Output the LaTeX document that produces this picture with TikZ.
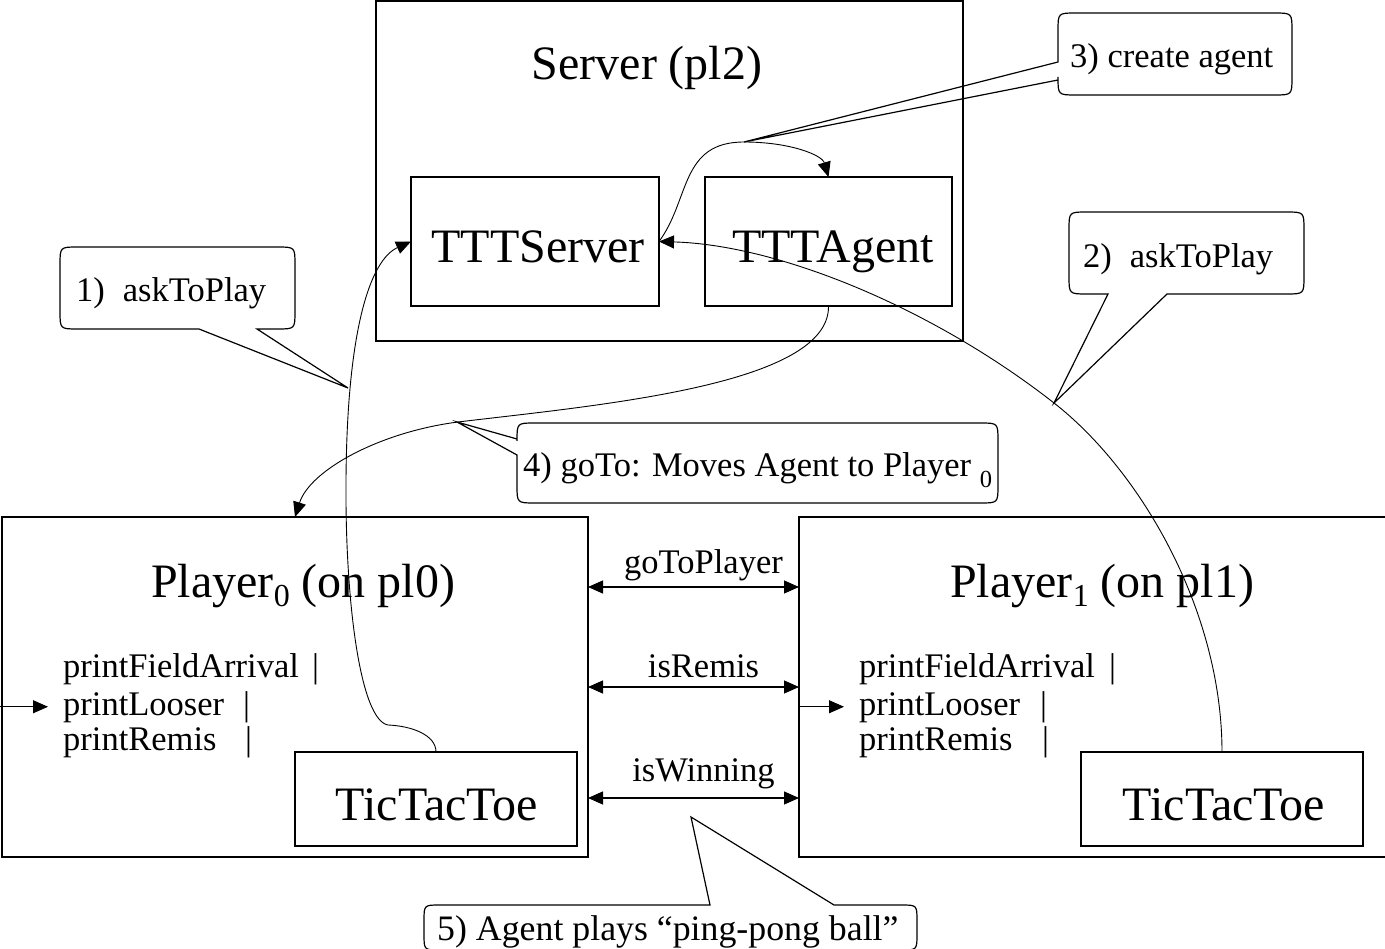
\documentclass[tikz,border=0pt]{standalone}
\usepackage{fontspec}
\setmainfont{Liberation Serif}
\usetikzlibrary{arrows.meta,fit}

% lowered index digit, as in Player_0
\newcommand{\lowidx}[3]{\raisebox{-#2pt}{\fontsize{#1}{#1}\selectfont #3}}

\begin{document}
\begin{tikzpicture}[x=1pt,y=-1pt,
  box/.style={draw, line width=1.2pt, inner sep=0pt, outer sep=0pt},
  big/.style={font=\fontsize{48}{56}\selectfont, inner sep=0pt},
  small/.style={font=\fontsize{34.5}{40}\selectfont, inner sep=0pt},
  callout/.style={draw, line width=1.2pt, line join=miter},
  flow/.style={line width=0.9pt, -{Triangle[length=15pt,width=13pt]}},
  twoway/.style={line width=1.1pt, {Triangle[length=15pt,width=13pt]}-{Triangle[length=15pt,width=13pt]}},
]
\useasboundingbox (0,0) rectangle (1385,949);
\clip (0,0) rectangle (1385,949);

% ---------- containers ----------
\node[box, fit={(376,1) (963,341)}]    (server)    {};
\node[box, fit={(411,177) (659,306)}]  (tttserver) {};
\node[box, fit={(705,177) (952,306)}]  (tttagent)  {};
\node[box, fit={(2,517) (588,857)}]    (player0)   {};
\node[box, fit={(799,517) (1420,857)}] (player1)   {};
\node[box, fit={(295,752) (577,846)}]  (ttt0)      {};
\node[box, fit={(1081,752) (1363,846)}](ttt1)      {};

% ---------- titles ----------
\node[big, anchor=base] (serverlbl)    at (647,80)  {Server (pl2)};
\node[big, anchor=base] (tttserverlbl) at (538,263) {TTTServer};
\node[big, anchor=base] (tttagentlbl)  at (833,263) {TTTAgent};
\node[big, anchor=base west] (p0lbl) at (151,597) {Player\lowidx{32}{9.5}{0} (on pl0)};
\node[big, anchor=base west] (p1lbl) at (950,597) {Player\lowidx{32}{9.5}{1} (on pl1)};
\node[big, anchor=base] (ttt0lbl) at (437,820) {TicTacToe};
\node[big, anchor=base] (ttt1lbl) at (1224,820) {TicTacToe};

% ---------- player methods ----------
\node[small, anchor=base west] (m0a) at (63,677) {\makebox[249pt][l]{printFieldArrival}|};
\node[small, anchor=base west] (m0b) at (63,715) {\makebox[180pt][l]{printLooser}|};
\node[small, anchor=base west] (m0c) at (63,750) {\makebox[182pt][l]{printRemis}|};
\node[small, anchor=base west] (m1a) at (859,677) {\makebox[250pt][l]{printFieldArrival}|};
\node[small, anchor=base west] (m1b) at (859,715) {\makebox[181pt][l]{printLooser}|};
\node[small, anchor=base west] (m1c) at (859,750) {\makebox[183pt][l]{printRemis}|};

\draw[flow, shorten >=15pt] (0,0 |- m0b.west) coordinate (in0) -- (m0b.west);
\draw[flow, shorten >=15pt] (player1.west |- m1b.west) -- (m1b.west);

% ---------- messages between the players ----------
\draw[twoway] (player0.east |- 0,587) -- node[small, anchor=base, xshift=10pt, yshift=14pt] (gotoplayer) {goToPlayer} (player1.west |- 0,587);
\draw[twoway] (player0.east |- 0,687) -- node[small, anchor=base, xshift=10pt, yshift=10pt] (isremis) {isRemis} (player1.west |- 0,687);
\draw[twoway] (player0.east |- 0,798) -- node[small, anchor=base, xshift=10pt, yshift=17pt] (iswinning) {isWinning} (player1.west |- 0,798);

% ---------- agent flow ----------
% 1) askToPlay
\draw[flow] (ttt0.north) .. controls (436,735) and (412,726) .. (388,725)
  .. controls (360,720) and (345,600) .. (346,480)
  .. controls (347,330) and (370,260) .. (tttserver.west);
% 2) askToPlay
\draw[flow] (ttt1.north) .. controls (1222,610) and (1140,470) .. (1054,403)
  .. controls (934,309) and (780,245) .. (tttserver.east);
% 3) create agent
\draw[flow] (tttserver.east) .. controls (690,200) and (680,142) .. (744,142)
  .. controls (790,142) and (822,155) .. (tttagent.north);
% 4) goTo
\draw[flow] (tttagent.south) .. controls (830,385) and (600,405) .. (458,422)
  .. controls (380,432) and (310,470) .. (player0.north);

% ---------- callouts ----------
% 1) askToPlay
\draw[callout] (199,329) -- (348,388) -- (257,329) -- (277,329) .. controls (295,329) .. (295,311)
  -- (295,265) .. controls (295,247) .. (277,247) -- (78,247) .. controls (60,247) .. (60,265)
  -- (60,311) .. controls (60,329) .. (78,329) -- cycle;
\node[small, anchor=base west] (note1) at (76,302) {1)\hspace{18pt}askToPlay};

% 2) askToPlay
\draw[callout] (1108,294) -- (1054,403) -- (1167,294) -- (1286,294) .. controls (1304,294) .. (1304,276)
  -- (1304,230) .. controls (1304,212) .. (1286,212) -- (1087,212) .. controls (1069,212) .. (1069,230)
  -- (1069,276) .. controls (1069,294) .. (1087,294) -- cycle;
\node[small, anchor=base west] (note2) at (1083,268) {2)\hspace{18pt}askToPlay};

% 3) create agent
\draw[callout] (1058,62) -- (744,142) -- (1058,80) -- (1058,77) .. controls (1058,95) .. (1076,95)
  -- (1274,95) .. controls (1292,95) .. (1292,77) -- (1292,31) .. controls (1292,13) .. (1274,13)
  -- (1076,13) .. controls (1058,13) .. (1058,31) -- cycle;
\node[small, anchor=base west] (note3) at (1070,68) {3) create agent};

% 4) goTo
\draw[callout] (517,439) -- (457,422) -- (517,455) -- (517,485) .. controls (517,503) .. (535,503)
  -- (980,503) .. controls (998,503) .. (998,485) -- (998,441) .. controls (998,423) .. (980,423)
  -- (535,423) .. controls (517,423) .. (517,441) -- cycle;
\node[small, anchor=base west] (note4) at (523,477) {4) goTo: Moves Agent to Player \lowidx{24.5}{11}{0}};

% 5) ping-pong (its lower edge runs along the page border)
\draw[callout] (710,905) -- (691,817) -- (834,905) -- (901,905) .. controls (917,905) .. (917,921)
  -- (917,934) .. controls (917,950) .. (901,950) -- (440,950) .. controls (424,950) .. (424,934)
  -- (424,921) .. controls (424,905) .. (440,905) -- cycle;
\node[font=\fontsize{35.8}{40}\selectfont, inner sep=0pt, anchor=base west] (note5) at (437,940) {5) Agent plays “ping-pong ball”};
\end{tikzpicture}
\end{document}
